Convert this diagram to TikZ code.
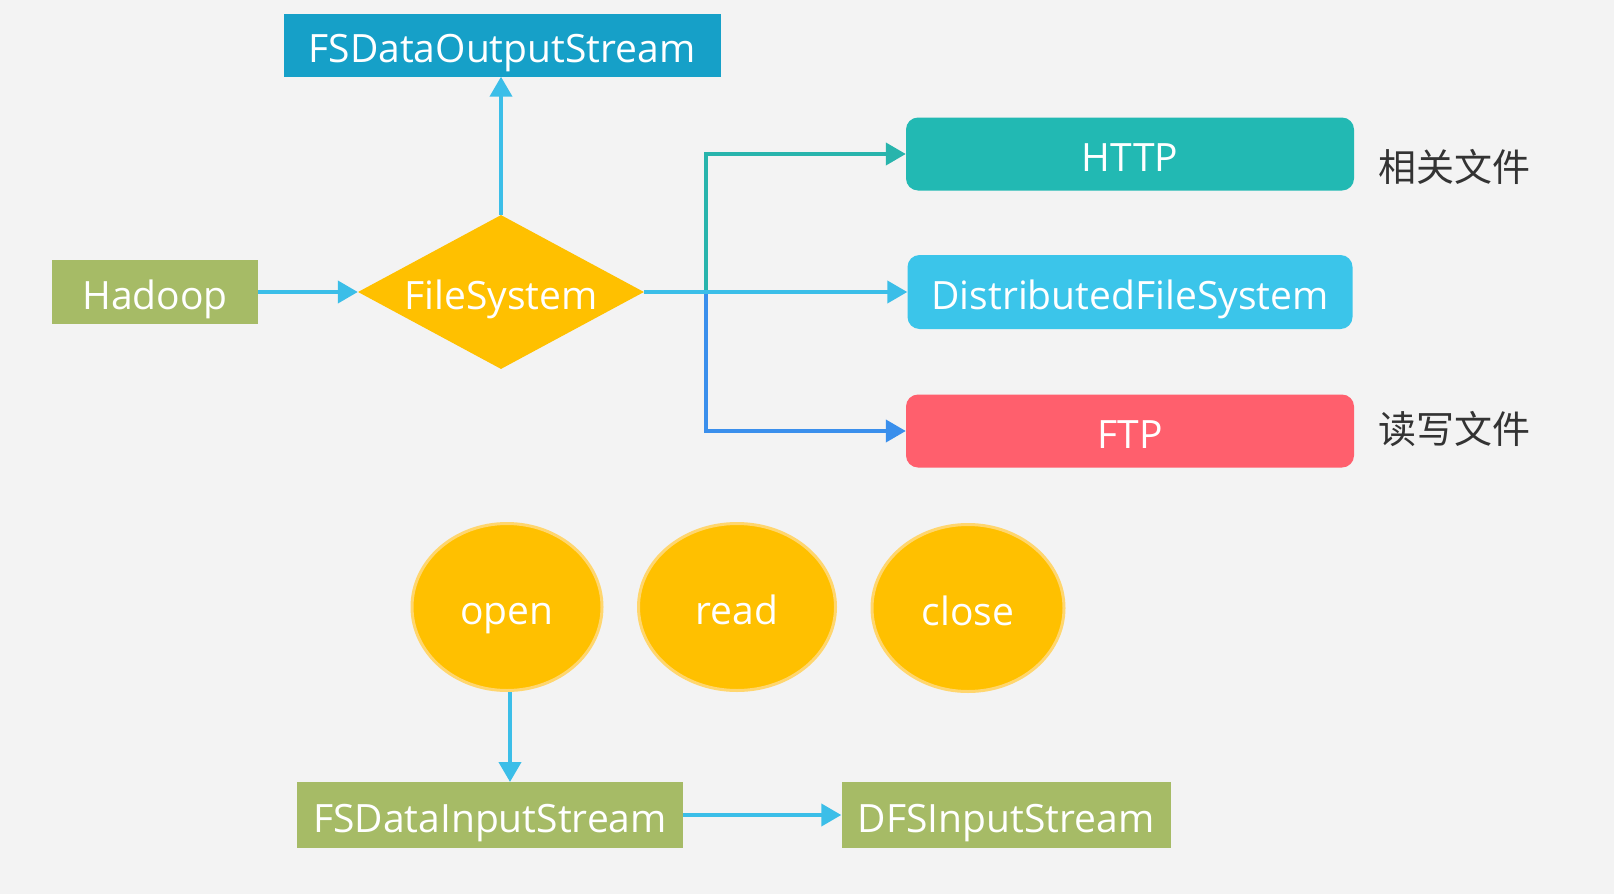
\documentclass[tikz,border=0pt]{standalone}
\usepackage{fontspec}
\setmainfont{Open Sans}
\newfontfamily\cjk{Noto Sans CJK SC}
\usetikzlibrary{shapes.geometric,arrows.meta}
\definecolor{bgc}{RGB}{243,243,243}
\definecolor{outblue}{RGB}{22,160,200}
\definecolor{hgreen}{RGB}{166,187,102}
\definecolor{fsyellow}{RGB}{255,192,0}
\definecolor{ellborder}{RGB}{255,214,110}
\definecolor{httpteal}{RGB}{34,185,179}
\definecolor{dfsblue}{RGB}{59,197,234}
\definecolor{ftpred}{RGB}{255,95,109}
\definecolor{arrblue}{RGB}{59,190,232}
\definecolor{arrteal}{RGB}{40,180,172}
\definecolor{arrdeep}{RGB}{58,143,236}
\definecolor{txtgray}{RGB}{51,51,51}
\tikzset{
  lbl/.style={text=white,font=\fontsize{39}{46}\selectfont,inner sep=0pt,text height=34pt,text depth=0pt},
  sqbox/.style={rectangle,fill=#1,lbl},
  rbox/.style={rectangle,rounded corners=12pt,fill=#1,lbl},
  conn/.style={line width=4pt,draw=#1,-{Triangle[length=20pt,width=22pt]}},
  oval/.style={ellipse,fill=fsyellow,draw=ellborder,line width=3pt,lbl},
  side/.style={text=txtgray,font=\cjk\fontsize{38}{44}\selectfont,inner sep=0pt}
}
\begin{document}
\begin{tikzpicture}[x=1pt,y=-1pt]
\fill[bgc] (0,0) rectangle (1614,894);
\useasboundingbox (0,0) rectangle (1614,894);

\node[sqbox=outblue,minimum width=437pt,minimum height=63pt] (out) at (502,45) {FSDataOutputStream};
\node[sqbox=hgreen,minimum width=206pt,minimum height=64pt] (hadoop) at (155,292) {Hadoop};
\node[diamond,fill=fsyellow,minimum width=286pt,minimum height=154pt,inner sep=0pt] (fs) at (501,292) {};
\node[lbl] (fstext) at (fs.center) {FileSystem};

\node[rbox=httpteal,minimum width=448pt,minimum height=73pt] (http) at (1130,154) {HTTP};
\node[rbox=dfsblue,minimum width=445pt,minimum height=74pt] (dfs) at (1130,292) {DistributedFileSystem};
\node[rbox=ftpred,minimum width=448pt,minimum height=73pt] (ftp) at (1130,431) {FTP};

\node[side] (c1) at (1454,167) {相关文件};
\node[side] (c2) at (1454,429) {读写文件};

\node[oval,minimum width=190pt,minimum height=167pt] (open) at (507,607) {open};
\node[oval,minimum width=197pt,minimum height=167pt] (read) at (737,607) {read};
\node[oval,minimum width=192pt,minimum height=167pt] (close) at (968,608) {close};

\node[sqbox=hgreen,minimum width=386pt,minimum height=66pt] (fin) at (490,815) {FSDataInputStream};
\node[sqbox=hgreen,minimum width=329pt,minimum height=66pt] (dfsin) at (1006,815) {DFSInputStream};

\coordinate (j) at (706,292);
\coordinate (openbot) at (510,692);
\coordinate (fintop) at (510,782);

\draw[conn=arrblue] (hadoop.east) -- (fs.west);
\draw[conn=arrblue] (fs.north) -- (fs.north |- out.south);
\draw[conn=arrdeep] (j) |- (ftp.west);
\draw[conn=arrteal] (j) |- (http.west);
\draw[conn=arrblue] (fs.east) -- (dfs.west);
\draw[conn=arrblue] (openbot) -- (fintop);
\draw[conn=arrblue] (fin.east) -- (dfsin.west);
\end{tikzpicture}
\end{document}
